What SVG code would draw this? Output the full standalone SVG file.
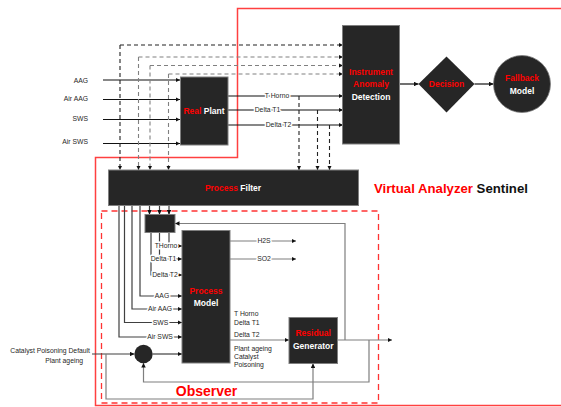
<svg xmlns="http://www.w3.org/2000/svg" width="561" height="407" viewBox="0 0 561 407">
<style>
.box{fill:#262626;stroke:#7f7f7f;stroke-width:1}
.bt{font-family:"Liberation Sans",Arial,sans-serif;font-weight:bold;font-size:8.5px;text-anchor:middle}
.r{fill:#ff0000}
.w{fill:#ffffff}
.sm{font-family:"Liberation Sans",Arial,sans-serif;font-size:6.8px;fill:#262626}
.lbl{stroke:#ffffff;stroke-width:3;paint-order:stroke;stroke-linejoin:round}
.ln{fill:none;stroke:#111;stroke-width:1.2}
.lg{fill:none;stroke:#7f7f7f;stroke-width:1.2}
.ld{fill:none;stroke:#404040;stroke-width:1.2}
.dk{fill:none;stroke:#222;stroke-width:1.1;stroke-dasharray:4,3}
.dg{fill:none;stroke:#808080;stroke-width:1.1;stroke-dasharray:4,3}
</style>
<defs>
<marker id="a" viewBox="0 0 6 6" refX="6" refY="3" markerUnits="userSpaceOnUse" markerWidth="4.5" markerHeight="4.5" orient="auto"><path d="M0,0 L6,3 L0,6z" fill="#111"/></marker>
</defs>
<rect width="561" height="407" fill="#ffffff"/>

<g id="frames">
<path d="M561,8.5 H237.5 V157.5 H95.5 V405.5 H561" fill="none" stroke="#ff4040" stroke-width="1.5"/>
<rect x="101.5" y="211" width="277" height="192" fill="none" stroke="#ff3333" stroke-width="1.3" stroke-dasharray="6,4"/>
<text x="374" y="192.5" font-family="Liberation Sans,Arial,sans-serif" font-weight="bold" font-size="13.2px"><tspan fill="#ff0000">Virtual Analyzer</tspan><tspan fill="#111"> Sentinel</tspan></text>
<text x="206.5" y="396" font-family="Liberation Sans,Arial,sans-serif" font-weight="bold" font-size="14px" fill="#ff0000" text-anchor="middle">Observer</text>
</g>

<g id="connectors">
<!-- inputs to real plant -->
<path class="ln" d="M103,80 H180" marker-end="url(#a)"/>
<path class="ln" d="M103,99.5 H180" marker-end="url(#a)"/>
<path class="ln" d="M103,119.5 H180" marker-end="url(#a)"/>
<path class="ln" d="M103,143.5 H180" marker-end="url(#a)"/>
<!-- dashed feed-forward to IAD and Process Filter -->
<path class="dk" d="M120,45 H343" marker-end="url(#a)"/>
<path class="dk" d="M120,45 V170" marker-end="url(#a)"/>
<path class="dg" d="M138.5,57 H343" marker-end="url(#a)"/>
<path class="dg" d="M138.5,57 V170" marker-end="url(#a)"/>
<path class="dg" d="M150,65.5 H343" marker-end="url(#a)"/>
<path class="dg" d="M150,65.5 V170" marker-end="url(#a)"/>
<path class="dg" d="M168.5,74 H343" marker-end="url(#a)"/>
<path class="dg" d="M168.5,74 V170" marker-end="url(#a)"/>
<!-- real plant outputs -->
<path class="ln" d="M228,96 H343" marker-end="url(#a)"/>
<path class="ln" d="M228,110 H343" marker-end="url(#a)"/>
<path class="ln" d="M228,125 H343" marker-end="url(#a)"/>
<path class="dk" d="M299,96 V170" marker-end="url(#a)"/>
<path class="dk" d="M317.5,110 V170" marker-end="url(#a)"/>
<path class="dk" d="M329.5,125 V170" marker-end="url(#a)"/>
<!-- IAD -> decision -> fallback -->
<path class="ln" d="M399.5,84 H418.5" marker-end="url(#a)"/>
<path class="ln" d="M474.5,84 H493.5" marker-end="url(#a)"/>
<!-- process filter to small box -->
<path class="ld" d="M149.5,206 V214.5" marker-end="url(#a)"/>
<path class="ld" d="M159.5,206 V214.5" marker-end="url(#a)"/>
<path class="ld" d="M169,206 V214.5" marker-end="url(#a)"/>
<!-- small box to process model -->
<path class="ld" d="M169,232.5 V246 H182" marker-end="url(#a)"/>
<path class="ld" d="M159.5,232.5 V259 H182" marker-end="url(#a)"/>
<path class="ld" d="M151,232.5 V275 H182" marker-end="url(#a)"/>
<!-- process filter to process model -->
<path class="ld" d="M140,206 V296 H182" marker-end="url(#a)"/>
<path class="ld" d="M132,206 V309 H182" marker-end="url(#a)"/>
<path class="ld" d="M124.5,206 V322.5 H182" marker-end="url(#a)"/>
<path class="ld" d="M119,206 V337 H182" marker-end="url(#a)"/>
<!-- process model outputs -->
<path class="lg" d="M230,241 H296" marker-end="url(#a)"/>
<path class="lg" d="M230,259 H296" marker-end="url(#a)"/>
<path class="lg" d="M230,340 H289" marker-end="url(#a)"/>
<!-- residual generator output and loops -->
<path class="lg" d="M337.5,340 H392" marker-end="url(#a)"/>
<path class="lg" d="M345,340 V223.5 H175" marker-end="url(#a)"/>
<path class="lg" d="M369,340 V382 H143.5 V363" marker-end="url(#a)"/>
<!-- catalyst input -->
<path class="ld" d="M92,354 H134.3" marker-end="url(#a)"/>
<path class="ld" d="M152.7,354 H182" marker-end="url(#a)"/>
<path class="lg" d="M106,354 V399 H313 V363.5" marker-end="url(#a)"/>
</g>

<g id="labels">
<text class="sm" x="88" y="82.5" text-anchor="end">AAG</text>
<text class="sm" x="88" y="100.5" text-anchor="end">Air AAG</text>
<text class="sm" x="88" y="121" text-anchor="end">SWS</text>
<text class="sm" x="88" y="144" text-anchor="end">Air SWS</text>
<text class="sm lbl" x="277" y="98.4" text-anchor="middle">T Horno</text>
<text class="sm lbl" x="267.5" y="112.4" text-anchor="middle">Delta T1</text>
<text class="sm lbl" x="278.5" y="127.4" text-anchor="middle">Delta T2</text>
<text class="sm lbl" x="166" y="248.4" text-anchor="middle">THorno</text>
<text class="sm lbl" x="163.5" y="261.4" text-anchor="middle">Delta T1</text>
<text class="sm lbl" x="165" y="277.4" text-anchor="middle">Delta T2</text>
<text class="sm lbl" x="162" y="298.4" text-anchor="middle">AAG</text>
<text class="sm lbl" x="160" y="311.4" text-anchor="middle">Air AAG</text>
<text class="sm lbl" x="160.5" y="324.8" text-anchor="middle">SWS</text>
<text class="sm lbl" x="160" y="339.4" text-anchor="middle">Air SWS</text>
<text class="sm lbl" x="264" y="243.4" text-anchor="middle">H2S</text>
<text class="sm lbl" x="264" y="261.4" text-anchor="middle">SO2</text>
<text class="sm" x="234" y="315.7">T Horno</text>
<text class="sm" x="234" y="325.1">Delta T1</text>
<text class="sm" x="234" y="336.7">Delta T2</text>
<text class="sm" x="234" y="350.7">Plant ageing</text>
<text class="sm" x="234" y="358.7">Catalyst</text>
<text class="sm" x="234" y="367.1">Poisoning</text>
<text class="sm" x="90" y="352.9" text-anchor="end">Catalyst Poisoning Default</text>
<text class="sm" x="83" y="363.1" text-anchor="end">Plant ageing</text>
</g>

<g id="real-plant">
<rect class="box" x="180.5" y="77" width="47.5" height="68"/>
<text class="bt" x="204" y="113.5"><tspan class="r">Real</tspan><tspan class="w"> Plant</tspan></text>
</g>

<g id="instrument-anomaly-detection">
<rect class="box" x="342.5" y="25.5" width="57" height="118.5"/>
<text class="bt r" x="371" y="74.8">Instrument</text>
<text class="bt r" x="371" y="87">Anomaly</text>
<text class="bt w" x="371" y="99.5">Detection</text>
</g>

<g id="decision">
<polygon points="446.5,56.5 474.5,84 446.5,112.5 418.5,84" fill="#262626"/>
<text class="bt r" x="446.5" y="87">Decision</text>
</g>

<g id="fallback-model">
<circle cx="522" cy="84" r="28.5" fill="#262626" stroke="#7f7f7f" stroke-width="0.8"/>
<text class="bt r" x="522" y="80.7">Fallback</text>
<text class="bt w" x="522" y="93.7">Model</text>
</g>

<g id="process-filter">
<rect class="box" x="108.5" y="170" width="250" height="35.5"/>
<text class="bt" x="233" y="190.8"><tspan class="r">Process</tspan><tspan class="w"> Filter</tspan></text>
</g>

<g id="selector">
<rect class="box" x="145" y="214.5" width="30" height="18"/>
</g>

<g id="process-model">
<rect class="box" x="182" y="230.5" width="48" height="132.5"/>
<text class="bt r" x="206" y="293.8">Process</text>
<text class="bt w" x="206" y="306.3">Model</text>
</g>

<g id="residual-generator">
<rect class="box" x="289" y="317.5" width="48.5" height="46"/>
<text class="bt r" x="313.2" y="336.3">Residual</text>
<text class="bt w" x="313.2" y="349.3">Generator</text>
</g>

<g id="sum">
<circle cx="143.5" cy="354" r="9.2" fill="#262626"/>
</g>
</svg>
